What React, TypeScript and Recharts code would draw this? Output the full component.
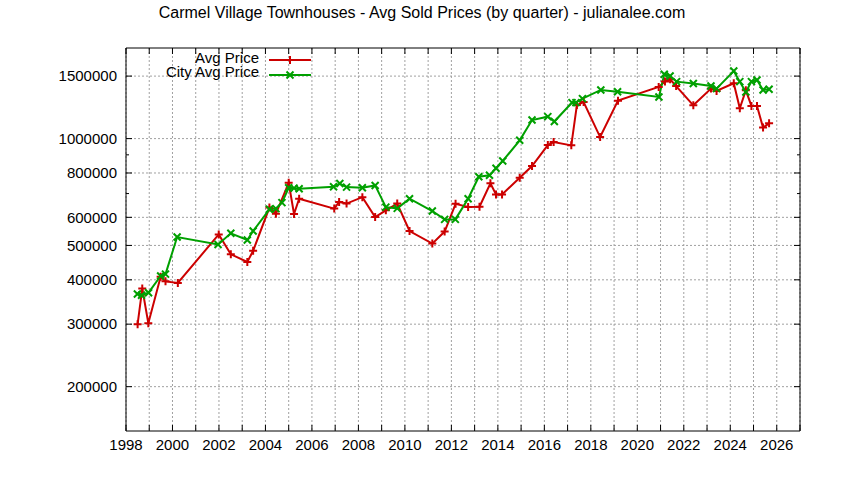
import React from "react";
import { LineChart, Line, XAxis, YAxis, CartesianGrid } from "recharts";

// quarter dates (decimal years) and average sold prices
const avgDates = [
    1998.5, 1998.7, 1998.96, 1999.49, 1999.7, 2000.23, 2001.99, 2002.51, 2003.22, 2003.47,
    2004.17, 2004.45, 2005.0, 2005.23, 2005.45, 2006.96, 2007.17, 2007.49, 2008.17, 2008.72,
    2009.18, 2009.67, 2010.2, 2011.18, 2011.71, 2012.18, 2012.72, 2013.21, 2013.68, 2013.92,
    2014.18, 2014.94, 2015.47, 2016.15, 2016.4, 2017.16, 2017.4, 2017.69, 2018.4, 2019.17,
    2020.92, 2021.19, 2021.41, 2021.67, 2022.41, 2023.17, 2023.41, 2024.15, 2024.41, 2024.67,
    2024.91, 2025.15, 2025.41, 2025.67,
];
const avgPrices = [
    300000, 378000, 302000, 408000, 396000, 392000, 537000, 472000, 449000, 483000,
    639000, 614000, 751000, 613000, 677000, 635000, 663000, 656000, 684000, 601000,
    628000, 656000, 549000, 506000, 547000, 655000, 642000, 643000, 748000, 696000,
    696000, 776000, 837000, 959000, 978000, 957000, 1243000, 1268000, 1010000, 1279000,
    1398000, 1448000, 1470000, 1406000, 1241000, 1383000, 1362000, 1432000, 1217000, 1368000,
    1236000, 1236000, 1074000, 1104000,
];

const cityDates = [
    1998.49, 1998.67, 1998.97, 1999.49, 1999.7, 2000.2, 2001.96, 2002.51, 2003.22, 2003.47,
    2004.17, 2004.45, 2004.71, 2005.0, 2005.23, 2005.45, 2006.93, 2007.2, 2007.49, 2008.17,
    2008.72, 2009.18, 2009.67, 2010.2, 2011.18, 2011.71, 2012.17, 2012.72, 2013.18, 2013.64,
    2013.92, 2014.21, 2014.94, 2015.47, 2016.15, 2016.43, 2017.19, 2017.36, 2017.64, 2018.43,
    2019.15, 2020.93, 2021.16, 2021.41, 2021.69, 2022.41, 2023.17, 2023.41, 2024.15, 2024.41,
    2024.67, 2024.91, 2025.15, 2025.41, 2025.67,
];
const cityPrices = [
    365000, 362000, 368000, 410000, 415000, 528000, 503000, 541000, 518000, 549000,
    632000, 635000, 660000, 727000, 725000, 722000, 732000, 747000, 730000, 727000,
    738000, 641000, 636000, 677000, 625000, 592000, 592000, 677000, 781000, 788000,
    825000, 865000, 989000, 1128000, 1153000, 1117000, 1263000, 1263000, 1296000, 1371000,
    1355000, 1310000, 1518000, 1501000, 1447000, 1429000, 1406000, 1383000, 1550000, 1447000,
    1353000, 1447000, 1462000, 1371000, 1377000,
];

const yearTicks = Array.from({ length: 30 }, (_, i) => 1998 + i);
const priceTicks = [200000, 300000, 400000, 500000, 600000, 800000, 1000000, 1500000];
const minorPriceTicks = [700000, 900000];

const avgData = avgDates.map((t, i) => ({ t, v: avgPrices[i] }));
const cityData = cityDates.map((t, i) => ({ t, v: cityPrices[i] }));
const allPriceTicks = [...priceTicks, ...minorPriceTicks].sort((a, b) => a - b);

const RED = "#cc0000";
const GREEN = "#00a000";
const FONT = "'Liberation Sans', Arial, sans-serif";

const PlusDot = (props: any) => {
    const { cx, cy } = props;
    if (cx == null || cy == null) return null;
    return (
        <path
            d={`M${cx - 4},${cy}H${cx + 4}M${cx},${cy - 4}V${cy + 4}`}
            stroke={RED}
            strokeWidth={2}
            fill="none"
        />
    );
};

const CrossDot = (props: any) => {
    const { cx, cy } = props;
    if (cx == null || cy == null) return null;
    return (
        <path
            d={`M${cx - 3.5},${cy - 3.5}L${cx + 3.5},${cy + 3.5}M${cx - 3.5},${cy + 3.5}L${cx + 3.5},${cy - 3.5}`}
            stroke={GREEN}
            strokeWidth={2}
            fill="none"
        />
    );
};

const BottomTick = (props: any) => {
    const { x, y, payload } = props;
    const axisY = y - 8;
    return (
        <g>
            <line x1={x} x2={x} y1={axisY} y2={axisY - 6} stroke="#000" />
            {payload.value % 2 === 0 && (
                <text x={x} y={y} dy="0.71em" textAnchor="middle" fontSize={15} fontFamily={FONT} fill="#000">
                    {payload.value}
                </text>
            )}
        </g>
    );
};

const TopTick = (props: any) => {
    const { x, y } = props;
    return <line x1={x} x2={x} y1={y} y2={y + 6} stroke="#000" />;
};

const LeftTick = (props: any) => {
    const { x, y, payload } = props;
    const axisX = x + 9;
    const major = priceTicks.includes(payload.value);
    return (
        <g>
            <line x1={axisX} x2={axisX + (major ? 6 : 3)} y1={y} y2={y} stroke="#000" />
            {major && (
                <text x={x} y={y} dy="0.35em" textAnchor="end" fontSize={15} fontFamily={FONT} fill="#000">
                    {payload.value}
                </text>
            )}
        </g>
    );
};

const RightTick = (props: any) => {
    const { x, y, payload } = props;
    const major = priceTicks.includes(payload.value);
    return <line x1={x} x2={x - (major ? 6 : 3)} y1={y} y2={y} stroke="#000" />;
};

export default function App() {
    return (
        <div style={{ position: "relative", width: 844, height: 480, background: "#fff" }}>
            <style>{"body{margin:0}"}</style>
            <LineChart
                width={844}
                height={480}
                margin={{ top: 38, right: 34, bottom: 19, left: 66 }}
            >
                <CartesianGrid
                    stroke="#a0a0a0"
                    strokeDasharray="2 2"
                    horizontalValues={priceTicks}
                    verticalValues={yearTicks}
                />
                <XAxis
                    dataKey="t"
                    type="number"
                    domain={[1998, 2027]}
                    ticks={yearTicks}
                    interval={0}
                    height={30}
                    tickSize={0}
                    tickMargin={8}
                    tickLine={false}
                    axisLine={{ stroke: "#000" }}
                    tick={<BottomTick />}
                    allowDataOverflow
                />
                <XAxis
                    xAxisId="top"
                    orientation="top"
                    dataKey="t"
                    type="number"
                    domain={[1998, 2027]}
                    ticks={yearTicks}
                    interval={0}
                    height={10}
                    tickSize={0}
                    tickMargin={0}
                    tickLine={false}
                    axisLine={{ stroke: "#000" }}
                    tick={<TopTick />}
                    allowDataOverflow
                />
                <YAxis
                    type="number"
                    scale="log"
                    domain={[150000, 1800000]}
                    ticks={allPriceTicks}
                    interval={0}
                    width={60}
                    tickSize={0}
                    tickMargin={9}
                    tickLine={false}
                    axisLine={{ stroke: "#000" }}
                    tick={<LeftTick />}
                    allowDataOverflow
                />
                <YAxis
                    yAxisId="right"
                    orientation="right"
                    type="number"
                    scale="log"
                    domain={[150000, 1800000]}
                    ticks={allPriceTicks}
                    interval={0}
                    width={10}
                    tickSize={0}
                    tickMargin={0}
                    tickLine={false}
                    axisLine={{ stroke: "#000" }}
                    tick={<RightTick />}
                    allowDataOverflow
                />
                <Line
                    data={avgData}
                    dataKey="v"
                    name="Avg Price"
                    type="linear"
                    stroke={RED}
                    strokeWidth={2}
                    dot={<PlusDot />}
                    activeDot={false}
                    isAnimationActive={false}
                />
                <Line
                    data={cityData}
                    dataKey="v"
                    name="City Avg Price"
                    type="linear"
                    stroke={GREEN}
                    strokeWidth={2}
                    dot={<CrossDot />}
                    activeDot={false}
                    isAnimationActive={false}
                />
            </LineChart>
            <svg
                width={844}
                height={480}
                style={{ position: "absolute", left: 0, top: 0, pointerEvents: "none" }}
            >
                <text x={422} y={18} textAnchor="middle" fontSize={16} fontFamily={FONT} fill="#000">
                    Carmel Village Townhouses - Avg Sold Prices (by quarter) - julianalee.com
                </text>
                <text x={259} y={63} textAnchor="end" fontSize={15} fontFamily={FONT} fill="#000">
                    Avg Price
                </text>
                <line x1={269} x2={311} y1={60} y2={60} stroke={RED} strokeWidth={2} />
                <PlusDot cx={290} cy={60} />
                <text x={259} y={77} textAnchor="end" fontSize={15} fontFamily={FONT} fill="#000">
                    City Avg Price
                </text>
                <line x1={269} x2={311} y1={75} y2={75} stroke={GREEN} strokeWidth={2} />
                <CrossDot cx={290} cy={75} />
            </svg>
        </div>
    );
}
